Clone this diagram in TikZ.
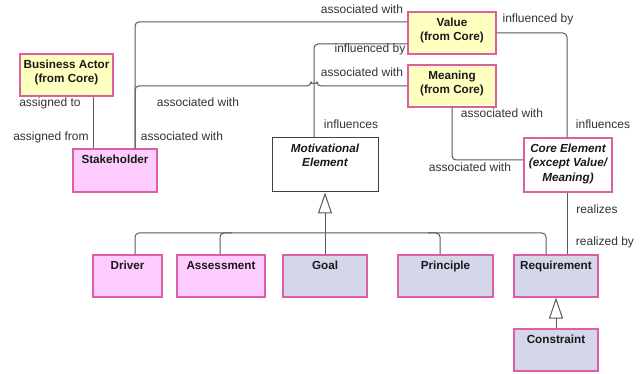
\documentclass[tikz,border=0pt]{standalone}
\usepackage{fontspec}
\setmainfont{Liberation Sans}
\usetikzlibrary{arrows.meta}
\definecolor{yel}{HTML}{FFFFC0}
\definecolor{pnk}{HTML}{FFCCFF}
\definecolor{lav}{HTML}{D6D6EA}
\definecolor{bord}{HTML}{DD5FA3}
\definecolor{lin}{HTML}{5A5A5A}
\definecolor{txt}{HTML}{333333}
\tikzset{
  box/.style={draw=bord, line width=1.1pt, inner sep=0pt},
  mbox/.style={draw=black!75, line width=1pt, inner sep=0pt, fill=white},
  title/.style={anchor=north, inner sep=0pt, align=center, text=black!90,
    font=\bfseries\fontsize{11.7}{14.5}\selectfont},
  ititle/.style={title, font=\bfseries\itshape\fontsize{11.7}{14.5}\selectfont},
  lab/.style={anchor=base, inner sep=0pt, text=txt, font=\fontsize{12}{14}\selectfont},
  conn/.style={draw=lin, line width=1pt, rounded corners=4pt},
  gen/.style={draw=lin, line width=1pt, -{Triangle[open, width=14pt, length=21pt, line width=1pt]}}
}
\begin{document}
\begin{tikzpicture}[x=1pt,y=-1pt]
\useasboundingbox (0,0) rectangle (640,374);
\fill[white] (0,0) rectangle (640,374);

% boxes
\node[box, fill=yel, minimum width=93pt, minimum height=42pt] (ba) at (66.5,75) {};
\node[box, fill=pnk, minimum width=84pt, minimum height=43pt] (sh) at (115,170.5) {};
\node[box, fill=yel, minimum width=88pt, minimum height=42pt] (val) at (452,33) {};
\node[box, fill=yel, minimum width=88pt, minimum height=42pt] (mean) at (452,86) {};
\node[mbox, minimum width=106pt, minimum height=54pt] (mot) at (325,165) {};
\node[box, fill=white, minimum width=88pt, minimum height=54pt] (core) at (568,165) {};
\node[box, fill=pnk, minimum width=69pt, minimum height=42pt] (drv) at (127.5,276) {};
\node[box, fill=pnk, minimum width=88pt, minimum height=42pt] (ass) at (221,276) {};
\node[box, fill=lav, minimum width=84pt, minimum height=42pt] (goal) at (325,276) {};
\node[box, fill=lav, minimum width=95pt, minimum height=42pt] (prin) at (445.5,276) {};
\node[box, fill=lav, minimum width=84pt, minimum height=42pt] (req) at (556,276) {};
\node[box, fill=lav, minimum width=84pt, minimum height=42pt] (con) at (556,350) {};

% titles
\node[title] (tba) at ([yshift=-6pt]ba.north) {Business Actor\\(from Core)};
\node[title] (tsh) at ([yshift=-6.5pt]sh.north) {Stakeholder};
\node[title] (tval) at ([yshift=-6pt]val.north) {Value\\(from Core)};
\node[title] (tmean) at ([yshift=-6pt]mean.north) {Meaning\\(from Core)};
\node[ititle] (tmot) at ([yshift=-6pt]mot.north) {Motivational\\Element};
\node[ititle] (tcore) at ([yshift=-6pt]core.north) {Core Element\\(except Value/\\Meaning)};
\node[title] (tdrv) at ([yshift=-6.5pt]drv.north) {Driver};
\node[title] (tass) at ([yshift=-6.5pt]ass.north) {Assessment};
\node[title] (tgoal) at ([yshift=-6.5pt]goal.north) {Goal};
\node[title] (tprin) at ([yshift=-6.5pt]prin.north) {Principle};
\node[title] (treq) at ([yshift=-6.5pt]req.north) {Requirement};
\node[title] (tcon) at ([yshift=-6.5pt]con.north) {Constraint};

% connectors
\draw[conn] (ba.south -| 93,0) -- (sh.north -| 93,0);
\draw[conn] (sh.north -| 135,0) |- (val.west |- 0,22);
\draw[conn] (sh.north -| 135,0) -- (135,86) -- (311,86)
  arc[start angle=180, end angle=0, radius=3pt] -- (mean.west |- 0,86);
\draw[conn] (mot.north -| 314,0) |- (val.west |- 0,44);
\draw[conn] (val.east |- 0,33) -| (core.north -| 567,0);
\draw[conn] (mean.south -| 452,0) |- (core.west |- 0,160);
\draw[conn] (core.south -| 567,0) -- (req.north -| 567,0);

% generalization
\draw[conn] (drv.north -| 135,0) -- (135,233) -- (546,233) -- (req.north -| 546,0);
\draw[conn] (ass.north -| 220,0) -- (220,233) -- (232,233);
\draw[conn] (prin.north -| 440,0) -- (440,233) -- (428,233);
\draw[gen] (goal.north) -- (mot.south);
\draw[gen] (con.north) -- (req.south);

% labels
\node[lab] (l1) at (50,107) {assigned to};
\node[lab] (l2) at (51,141) {assigned from};
\node[lab] (l3) at (182,141) {associated with};
\node[lab] (l4) at (198,107) {associated with};
\node[lab] (l5) at (362,14) {associated with};
\node[lab] (l6) at (370,53) {influenced by};
\node[lab] (l7) at (362,77) {associated with};
\node[lab] (l8) at (538,23) {influenced by};
\node[lab] (l9) at (502,118) {associated with};
\node[lab] (l10) at (351,129) {influences};
\node[lab] (l11) at (603,129) {influences};
\node[lab] (l12) at (470,172) {associated with};
\node[lab] (l13) at (597,214) {realizes};
\node[lab] (l14) at (605,246) {realized by};
\end{tikzpicture}
\end{document}
